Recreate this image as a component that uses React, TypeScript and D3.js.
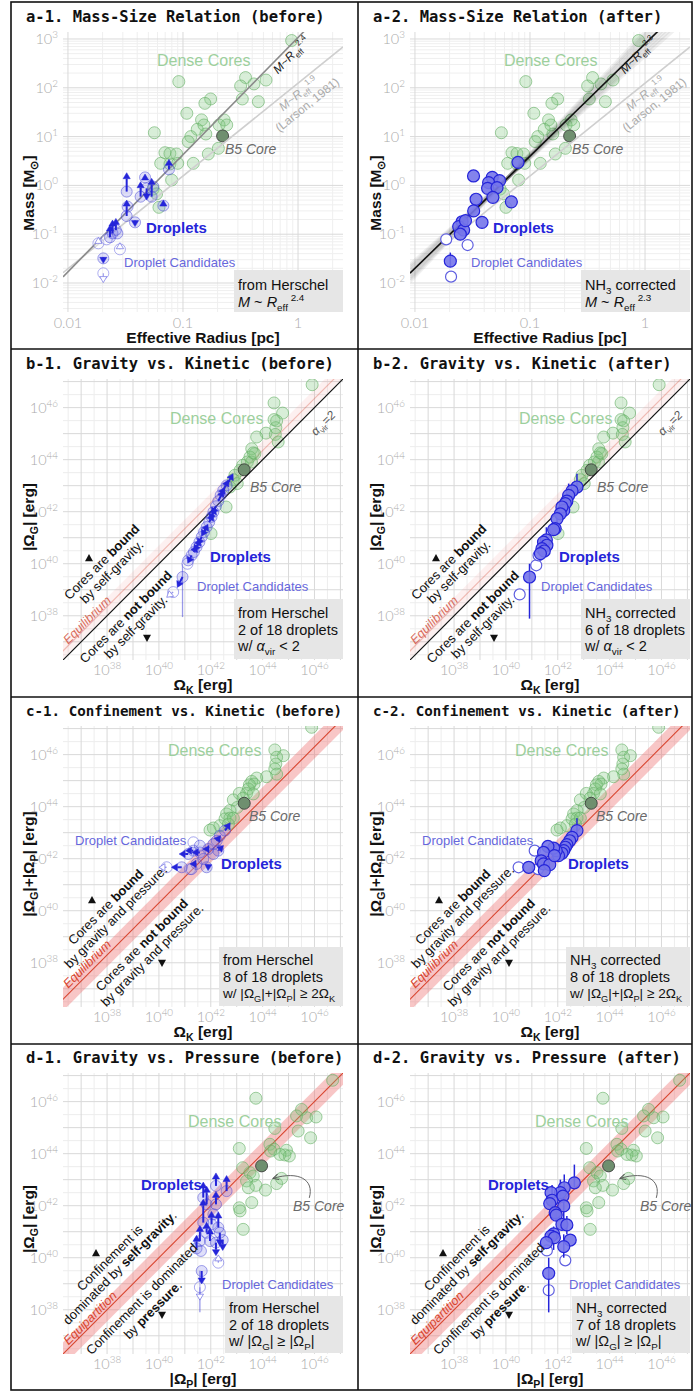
import React from 'react';
import * as d3 from 'd3';

const FONT = "'Liberation Sans', Arial, Helvetica, sans-serif";
const MONO = "'DejaVu Sans Mono', 'Liberation Mono', monospace";
const TICKF = "Lato, 'Open Sans', sans-serif";

// ================= DATA =================
// (a) mass–size relation: [effective radius (pc), mass (Msun)]
const coresA = [
  [0.88, 930], [0.092, 134], [0.35, 162], [0.317, 109], [0.414, 120], [0.527, 144],
  [0.174, 59], [0.155, 48], [0.328, 59], [0.452, 52], [0.108, 30], [0.145, 22],
  [0.133, 14.1], [0.152, 17.3], [0.228, 21.9], [0.206, 17.3], [0.24, 17.3], [0.0564, 12.0],
  [0.117, 10.0], [0.111, 7.9], [0.158, 11.3], [0.166, 4.4], [0.203, 5.75], [0.0697, 4.68],
  [0.077, 4.5], [0.088, 4.4], [0.064, 2.83], [0.077, 2.75], [0.09, 2.83], [0.123, 2.83],
  [0.0797, 1.29], [0.055, 0.84], [0.059, 0.67], [0.0618, 0.355],
];
const b5CoreA = [0.221, 10.3];
// before: [R, M, M at arrow tip (limit)]
const dropletsA1 = [
  [0.0755, 2.13, 3.42], [0.0324, 0.745, 1.82], [0.0468, 1.46, 1.71], [0.0428, 0.587, 1.19],
  [0.0483, 0.87, 0.5], [0.0534, 0.587, 1.4], [0.0553, 0.94, 0.94], [0.0675, 0.385, 0.5],
  [0.0324, 0.236, 0.5], [0.033, 0.367, 0.367], [0.0383, 0.175, 0.143], [0.0244, 0.104, 0.195],
  [0.0261, 0.122, 0.211], [0.0232, 0.0863, 0.155], [0.0269, 0.104, 0.104], [0.0203, 0.032, 0.0253],
];
const candidatesA1 = [
  [0.0184, 0.065, 0.086], [0.0283, 0.049, 0.067], [0.0203, 0.0158, 0.0102], [0.0217, 0.0785, 0.0785],
];
// after: [R, M, Mlo, Mhi]
const dropletsA2 = [
  [0.0787, 2.97], [0.0323, 1.56], [0.047, 1.46], [0.0544, 1.25], [0.0437, 1.14], [0.0428, 0.87],
  [0.0517, 0.9], [0.0476, 0.57], [0.034, 0.52], [0.0689, 0.46], [0.0324, 0.3], [0.0383, 0.175],
  [0.0257, 0.18], [0.024, 0.143], [0.0265, 0.122], [0.0248, 0.1], [0.0275, 0.19], [0.0203, 0.028, 0.0216, 0.042],
];
const candidatesA2 = [[0.0187, 0.0785], [0.0287, 0.06], [0.0206, 0.0135]];
// power-law fits: log10 M = logA + slope * log10 R
const fitBefore = { logA: 3.03, slope: 2.4 };
const fitAfter = { logA: 2.9, slope: 2.3 };
const larson = { logA: 2.093, slope: 1.9 };
const fanSlopes = [2.1, 2.15, 2.2, 2.25, 2.3, 2.35, 2.4, 2.45, 2.5];

// (b) log10 Omega_K vs log10 |Omega_G| (erg)
const coresB = [
  [45.91, 46.88], [44.44, 46.18], [44.77, 45.79], [44.44, 45.54], [44.54, 45.49], [44.51, 45.23],
  [44.13, 45.02], [44.49, 44.97], [43.77, 44.87], [44.6, 44.68], [43.58, 44.42], [43.7, 44.23],
  [43.51, 44.1], [43.41, 43.91], [43.57, 43.91], [43.23, 43.78], [43.13, 43.59], [42.93, 43.4],
  [42.87, 43.23], [43.02, 43.08], [42.74, 42.95], [42.59, 42.18], [42.01, 41.16], [43.64, 44.26],
];
const b5CoreB = [43.29, 43.61];
// before: [x, y, dx, dy] (arrow in dex)
const dropletsB1 = [
  [42.61, 43.01, 0.25, 0.45], [42.48, 42.82, 0.2, 0.4], [42.38, 42.63, 0.15, 0.3], [42.29, 42.41, 0.2, 0.4],
  [42.2, 42.21, -0.15, -0.3], [42.1, 41.99, -0.15, -0.3], [42.03, 41.8, 0.15, 0.35], [41.94, 41.6, 0.15, 0.3],
  [41.84, 41.41, -0.2, -0.35], [41.74, 41.22, 0.15, 0.3], [41.65, 41.03, -0.15, -0.3], [41.56, 40.83, -0.2, -0.35],
  [41.45, 40.64, 0.15, 0.3], [41.35, 40.45, 0.1, 0.25], [41.26, 40.32, -0.15, -0.3], [41.13, 40.13, 0, 0],
  [40.91, 39.49, -0.2, -0.4],
];
const candidatesB1 = [[40.55, 38.91, -0.25, -0.2], [41.1, 40.0, 0, 0]];
const errorsB1 = [[40.91, 37.95, 40.0]];
// after: [x, y, ylo, yhi]
const dropletsB2 = [
  [42.74, 42.95, 42.69, 43.46], [42.55, 42.8], [42.42, 42.63, 42.3, 43.08], [42.35, 42.41], [42.29, 42.31],
  [42.23, 42.05, 41.9, 42.6], [42.16, 42.18], [42.1, 41.92], [41.97, 41.73, 41.6, 42.1], [41.9, 41.35],
  [41.84, 41.31], [41.56, 40.92, 40.8, 41.4], [41.45, 40.83], [41.58, 40.71], [41.39, 40.58],
  [41.48, 40.49], [41.33, 40.39], [40.91, 39.49, 37.89, 40.0],
];
const candidatesB2 = [[41.17, 39.94], [41.26, 40.32], [40.53, 38.82]];

// (c) log10 Omega_K vs log10(|Omega_G|+|Omega_P|)
const coresC = [
  [45.89, 47.05], [44.47, 46.18], [44.8, 45.96], [44.54, 45.9], [44.51, 45.64], [44.47, 45.45],
  [44.54, 45.25], [44.15, 45.15], [43.77, 45.1], [43.58, 44.97], [43.67, 44.87], [43.49, 44.84],
  [43.45, 44.68], [43.38, 44.51], [43.64, 44.49], [43.1, 44.51], [43.25, 44.33], [42.87, 44.26],
  [43.02, 43.97], [42.74, 43.85], [42.61, 43.72], [42.74, 43.56], [42.55, 43.53], [42.87, 43.56],
  [42.35, 43.27], [42.1, 43.18], [41.97, 43.1], [42.68, 43.33],
];
const b5CoreC = [43.29, 44.13];
const dropletsC1 = [
  [42.55, 43.08, 0.2, 0.3], [42.35, 42.88, 0, 0], [42.23, 42.69, 0.15, 0.2], [42.1, 42.56, 0, 0],
  [41.9, 42.37, -0.2, 0], [41.58, 42.24, -0.3, 0], [41.33, 42.31, -0.3, 0], [41.13, 42.18, -0.35, 0],
  [41.71, 41.99, 0, 0], [41.45, 41.8, -0.25, 0], [41.26, 41.6, 0, 0], [41.84, 41.67, 0.2, 0.1],
  [42.1, 42.18, 0, 0], [42.29, 42.31, 0.2, 0.2], [40.88, 41.67, -0.4, 0], [41.58, 42.5, 0, 0],
];
const candidatesC1 = [[40.3, 41.67, -0.3, 0], [41.33, 42.63, 0, 0], [41.2, 41.6, 0, 0]];
const dropletsC2 = [
  [42.74, 43.08, 42.95, 43.55], [42.55, 42.82], [42.46, 42.69], [42.35, 42.54], [42.29, 42.44],
  [42.23, 42.31], [42.16, 42.21], [42.03, 42.12], [41.94, 42.31], [41.84, 42.41], [41.62, 42.47],
  [41.45, 42.24], [41.36, 41.92], [41.45, 41.8], [41.69, 41.77], [41.48, 41.54], [40.88, 41.67],
  [41.87, 42.12],
];
const candidatesC2 = [[41.11, 42.31], [40.49, 41.67], [41.24, 41.6]];

// (d) log10 |Omega_P| vs log10 |Omega_G|
const coresD = [
  [46.7, 46.82], [43.74, 46.13], [45.5, 45.7], [45.31, 45.45], [45.7, 45.38], [46.06, 45.41],
  [44.47, 44.97], [45.37, 44.87], [45.85, 44.61], [43.1, 44.2], [44.28, 44.36], [44.44, 44.17],
  [44.92, 44.13], [44.86, 43.95], [45.03, 43.91], [44.67, 43.97], [43.51, 43.27], [43.64, 43.14],
  [43.38, 42.95], [43.74, 42.78], [43.45, 42.69], [44.11, 42.6], [44.54, 42.85], [44.73, 43.05],
  [43.58, 42.12], [43.1, 41.92], [43.13, 41.8], [43.25, 41.09], [44.31, 44.1], [43.23, 43.46],
];
const b5CoreD = [43.96, 43.53];
const dropletsD1 = [
  [42.61, 42.56, 0, 0.6], [42.2, 42.76, 0, 0.5], [41.71, 42.31, 0, 0.6], [41.84, 42.05, 0, 0.7],
  [42.2, 42.05, 0, 0.5], [42.1, 41.67, 0, 0], [41.71, 41.35, 0, 0.9], [42.03, 41.28, 0, 0.5],
  [42.29, 41.16, 0, 0.6], [42.35, 40.96, 0, -0.5], [41.84, 40.96, 0, 0.4], [41.58, 40.64, 0, 0.6],
  [41.97, 40.64, 0, 0.5], [42.46, 40.68, 0, -0.4], [42.2, 40.58, 0, -0.5], [41.45, 40.36, 0, 0.5],
  [41.62, 40.26, 0, 0], [41.65, 39.49, 0, -0.5],
];
const candidatesD1 = [[42.29, 39.81, 0, 0.3], [41.58, 38.87, 0, -0.5]];
const errorsD1 = [[41.58, 37.9, 39.5]];
const dropletsD2 = [
  [42.64, 42.88, 42.7, 43.58], [42.25, 42.69, 42.5, 43.2], [42.1, 42.5, 42.3, 43.0], [41.74, 42.5],
  [41.78, 42.21, 42.0, 42.8], [41.69, 42.08], [42.2, 42.37], [42.23, 41.99, 41.5, 42.3], [41.9, 41.73],
  [41.94, 41.64, 41.4, 41.95], [42.16, 41.28], [42.35, 41.26, 40.9, 41.6], [41.84, 40.92, 40.3, 41.2],
  [41.74, 40.83], [41.87, 40.77], [42.48, 40.68], [41.56, 40.58], [42.23, 40.43, 40.0, 40.9],
  [41.65, 39.4, 37.9, 40.0],
];
const candidatesD2 = [[41.58, 40.28], [42.29, 39.9], [41.65, 38.75]];

const massTicksX = [0.01, 0.1, 1];
const massTickLabelsX = ['0.01', '0.1', '1'];
const massTickExpY = [-2, -1, 0, 1, 2, 3];
const energyTicks = [38, 40, 42, 44, 46];

// ================= LAYOUT / STYLE =================
const PX0 = 63, PX1 = 343, PY0 = 32, PY1 = 313;
const ROW_Y = [0, 347, 694, 1041];
const ex = d3.scaleLinear().domain([36.3, 47.1]).range([PX0, PX1]);
const ey = d3.scaleLinear().domain([36.3, 47.1]).range([PY1, PY0]);
const mx = d3.scaleLog().domain([10 ** -2.043, 10 ** 0.391]).range([PX0, PX1]);
const my = d3.scaleLog().domain([10 ** -2.594, 10 ** 3.143]).range([312, PY0]);

const BLUE = '#2525d9';
const BLUE_FILL = '#7575ea';
const LIGHT_FILL = 'rgba(95,95,228,0.2)';
const LIGHT_STROKE = 'rgba(70,70,215,0.5)';
const CAND = '#5f5fe0';
const CORE_FILL = 'rgba(125,198,125,0.3)';
const CORE_STROKE = 'rgba(100,175,100,0.6)';
const GREEN_TXT = '#9dd09d';
const TICK_COL = '#ababab';
const R_CORE = 6;

type Part = { t: string; sub?: boolean; sup?: boolean; b?: boolean; i?: boolean };
const P = (t: string, o: Partial<Part> = {}): Part => ({ t, ...o });

function Rich({ parts, size }: { parts: Part[]; size: number }) {
  let shift = 0;
  return (
    <>
      {parts.map((p, k) => {
        const target = p.sub ? size * 0.28 : p.sup ? -size * 0.42 : 0;
        const dy = target - shift;
        shift = target;
        return (
          <tspan key={k} dy={dy} fontSize={p.sub || p.sup ? size * 0.68 : size}
            fontWeight={p.b ? 700 : undefined} fontStyle={p.i ? 'italic' : undefined}>{p.t}</tspan>
        );
      })}
    </>
  );
}

function RotLines({ x, y, angle, lines, size, fill = '#111', lh = 14, italic = false }:
  { x: number; y: number; angle: number; lines: Part[][]; size: number; fill?: string; lh?: number; italic?: boolean }) {
  return (
    <g transform={`translate(${x},${y}) rotate(${angle})`}>
      {lines.map((l, i) => (
        <text key={i} x={0} y={i * lh} textAnchor="middle" fontSize={size} fill={fill} fontFamily={FONT}
          fontStyle={italic ? 'italic' : undefined}><Rich parts={l} size={size} /></text>
      ))}
    </g>
  );
}

function Arrow({ x1, y1, x2, y2, color, open = false, w = 2 }:
  { x1: number; y1: number; x2: number; y2: number; color: string; open?: boolean; w?: number }) {
  const ang = Math.atan2(y2 - y1, x2 - x1);
  const L = 6, hw = 3.6;
  const bx = x2 - L * Math.cos(ang), by = y2 - L * Math.sin(ang);
  const px = -Math.sin(ang) * hw, py = Math.cos(ang) * hw;
  const d = `M${x2},${y2}L${bx + px},${by + py}L${bx - px},${by - py}Z`;
  return (
    <g>
      <line x1={x1} y1={y1} x2={bx} y2={by} stroke={color} strokeWidth={open ? 1.2 : w} />
      <path d={d} fill={open ? 'white' : color} stroke={color} strokeWidth={open ? 1 : 0.5} />
    </g>
  );
}

function Tri({ x, y, up }: { x: number; y: number; up: boolean }) {
  const s = 4;
  const d = up
    ? `M${x},${y - s}L${x + s},${y + s * 0.8}L${x - s},${y + s * 0.8}Z`
    : `M${x},${y + s}L${x + s},${y - s * 0.8}L${x - s},${y - s * 0.8}Z`;
  return <path d={d} fill="#111" />;
}

function Title({ text, size = 15.5 }: { text: string; size?: number }) {
  return <text x={26} y={22} fontFamily={MONO} fontWeight={700} fontSize={size} fill="#111">{text}</text>;
}

function Label({ x, y, text, size, fill, bold = false, italic = false }:
  { x: number; y: number; text: string; size: number; fill: string; bold?: boolean; italic?: boolean }) {
  return <text x={x} y={y} fontFamily={FONT} fontSize={size} fill={fill} fontWeight={bold ? 700 : 400}
    fontStyle={italic ? 'italic' : undefined}>{text}</text>;
}

function InfoBox({ x, y, w, h, tx, base, lines, size = 14.5 }:
  { x: number; y: number; w: number; h: number; tx: number; base: number; lines: { parts: Part[]; size?: number }[]; size?: number }) {
  return (
    <g>
      <rect x={x} y={y} width={w} height={h} fill="#e6e6e6" />
      {lines.map((l, i) => (
        <text key={i} x={tx} y={base + i * 16.7} fontFamily={FONT} fontSize={l.size || size} fill="#111">
          <Rich parts={l.parts} size={l.size || size} />
        </text>
      ))}
    </g>
  );
}

function AxisTitles({ xLabel, yLabel, yCy }: { xLabel: Part[]; yLabel: Part[]; yCy: number }) {
  return (
    <g fontFamily={FONT} fontWeight={700} fill="#111">
      <text x={(PX0 + PX1) / 2} y={343} textAnchor="middle" fontSize={15.5}><Rich parts={xLabel} size={15.5} /></text>
      <text transform={`translate(34,${yCy}) rotate(-90)`} textAnchor="middle" fontSize={15.5}><Rich parts={yLabel} size={15.5} /></text>
    </g>
  );
}

// ---------- grids ----------
function EnergyGrid() {
  const halves = d3.range(36.5, 47.1, 1);
  const majors = d3.range(37, 47.1, 1);
  return (
    <g>
      <rect x={PX0} y={PY0} width={PX1 - PX0} height={PY1 - PY0} fill="#fff" />
      {halves.map(v => (
        <g key={'h' + v}>
          <line x1={ex(v)} x2={ex(v)} y1={PY0} y2={PY1} stroke="#ededed" />
          <line y1={ey(v)} y2={ey(v)} x1={PX0} x2={PX1} stroke="#ededed" />
        </g>
      ))}
      {majors.map(v => (
        <g key={'m' + v}>
          <line x1={ex(v)} x2={ex(v)} y1={PY0} y2={PY1} stroke="#d9d9d9" />
          <line y1={ey(v)} y2={ey(v)} x1={PX0} x2={PX1} stroke="#d9d9d9" />
        </g>
      ))}
      {energyTicks.map(v => (
        <g key={'t' + v} fontFamily={TICKF} fontWeight={300} fill={TICK_COL}>
          <text x={ex(v)} y={328} textAnchor="middle" fontSize={14.5}><Rich parts={[P('10'), P(String(v), { sup: true })]} size={14.5} /></text>
          <text x={58} y={ey(v) + 5} textAnchor="end" fontSize={14.5}><Rich parts={[P('10'), P(String(v), { sup: true })]} size={14.5} /></text>
        </g>
      ))}
    </g>
  );
}

function MassGrid() {
  const [x0, x1] = mx.domain();
  const [y0, y1] = my.domain();
  const xs = d3.range(-3, 1).flatMap(e => d3.range(1, 10).map(k => ({ v: k * 10 ** e, major: k === 1 })))
    .filter(d => d.v >= x0 && d.v <= x1);
  const ys = d3.range(-3, 4).flatMap(e => d3.range(1, 10).map(k => ({ v: k * 10 ** e, major: k === 1 })))
    .filter(d => d.v >= y0 && d.v <= y1);
  return (
    <g>
      <rect x={PX0} y={PY0} width={PX1 - PX0} height={312 - PY0} fill="#fff" />
      {xs.filter(d => !d.major).map((d, i) => <line key={'xm' + i} x1={mx(d.v)} x2={mx(d.v)} y1={PY0} y2={312} stroke="#efefef" />)}
      {ys.filter(d => !d.major).map((d, i) => <line key={'ym' + i} y1={my(d.v)} y2={my(d.v)} x1={PX0} x2={PX1} stroke="#efefef" />)}
      {xs.filter(d => d.major).map((d, i) => <line key={'xM' + i} x1={mx(d.v)} x2={mx(d.v)} y1={PY0} y2={312} stroke="#d9d9d9" />)}
      {ys.filter(d => d.major).map((d, i) => <line key={'yM' + i} y1={my(d.v)} y2={my(d.v)} x1={PX0} x2={PX1} stroke="#d9d9d9" />)}
      {massTicksX.map((v, i) => (
        <text key={'tx' + i} x={mx(v)} y={328} textAnchor="middle" fontFamily={TICKF} fontWeight={300} fontSize={14.5} fill={TICK_COL}>{massTickLabelsX[i]}</text>
      ))}
      {massTickExpY.map(e => (
        <text key={'ty' + e} x={58} y={my(10 ** e) + 5} textAnchor="end" fontFamily={TICKF} fontWeight={300} fontSize={14.5} fill={TICK_COL}>
          <Rich parts={[P('10'), P(String(e), { sup: true })]} size={14.5} />
        </text>
      ))}
    </g>
  );
}

// ---------- row a ----------
function MassPanel({ col, after }: { col: number; after: boolean }) {
  const [r0, r1] = mx.domain();
  const lineFor = (f: { logA: number; slope: number }) =>
    d3.line()([r0, r1].map(r => [mx(r), my(10 ** (f.logA + f.slope * Math.log10(r)))]) as any) || '';
  const fit = after ? fitAfter : fitBefore;
  const pivotR = -1.2, pivotM = fitAfter.logA + fitAfter.slope * pivotR;
  return (
    <g transform={`translate(${col * 347},0)`}>
      <Title text={after ? 'a-2. Mass-Size Relation (after)' : 'a-1. Mass-Size Relation (before)'} />
      <MassGrid />
      <AxisTitles xLabel={[P('Effective Radius [pc]')]} yLabel={[P('Mass [M'), P('⊙', { sub: true }), P(']')]} yCy={193} />
      <g clipPath="url(#plotClip)">
        {coresA.map((d, i) => <circle key={'c' + i} cx={mx(d[0])} cy={my(d[1])} r={R_CORE} fill={CORE_FILL} stroke={CORE_STROKE} />)}
        <circle cx={mx(b5CoreA[0])} cy={my(b5CoreA[1])} r={R_CORE} fill="#6f8f6f" stroke="#333" strokeOpacity={0.8} />
        {after && fanSlopes.map((s, i) => (
          <path key={'fan' + i} d={d3.line()([r0, r1].map(r => [mx(r), my(10 ** (pivotM + s * (Math.log10(r) - pivotR)))]) as any) || ''}
            stroke="#000" strokeOpacity={0.06} strokeWidth={4} fill="none" />
        ))}
        <path d={lineFor(larson)} stroke="#cfcfcf" strokeWidth={1.6} fill="none" />
        <path d={lineFor(fit)} stroke={after ? '#111' : '#8a8a8a'} strokeWidth={1.6} fill="none" />
        {!after && (
          <g>
            {candidatesA1.map((d, i) => (
              <g key={'ca' + i}>
                <circle cx={mx(d[0])} cy={my(d[1])} r={5.5} fill="rgba(255,255,255,0.3)" stroke="rgba(95,95,225,0.5)" />
                {d[2] !== d[1] && <Arrow x1={mx(d[0])} y1={my(d[1])} x2={mx(d[0])} y2={my(d[2])} color="rgba(95,95,225,0.6)" open />}
              </g>
            ))}
            {dropletsA1.map((d, i) => (
              <circle key={'da' + i} cx={mx(d[0])} cy={my(d[1])} r={5.5} fill={LIGHT_FILL} stroke={LIGHT_STROKE} />
            ))}
            {dropletsA1.filter(d => d[2] !== d[1]).map((d, i) => (
              <Arrow key={'ar' + i} x1={mx(d[0])} y1={my(d[1])} x2={mx(d[0])} y2={my(d[2])} color={BLUE} />
            ))}
          </g>
        )}
        {after && (
          <g>
            {candidatesA2.map((d, i) => (
              <circle key={'cb' + i} cx={mx(d[0])} cy={my(d[1])} r={5.5} fill="white" stroke={CAND} strokeWidth={1.2} />
            ))}
            {dropletsA2.filter(d => d.length > 2).map((d, i) => (
              <line key={'eb' + i} x1={mx(d[0])} x2={mx(d[0])} y1={my(d[2])} y2={my(d[3])} stroke={BLUE} strokeWidth={1.5} />
            ))}
            {dropletsA2.map((d, i) => (
              <circle key={'db' + i} cx={mx(d[0])} cy={my(d[1])} r={6} fill={BLUE_FILL} fillOpacity={0.9} stroke={BLUE} strokeWidth={1.2} />
            ))}
          </g>
        )}
      </g>
      <Label x={157} y={66} text="Dense Cores" size={16} fill={GREEN_TXT} />
      <Label x={225} y={154} text="B5 Core" size={14} fill="#6a6a6a" italic />
      <Label x={146} y={233} text="Droplets" size={15} fill={BLUE} bold />
      <Label x={124} y={267} text="Droplet Candidates" size={13} fill="#6767dc" />
      <RotLines x={294} y={58} angle={-45.5} size={12} fill="#222" lines={[[
        P('M', { i: true }), P('~'), P('R', { i: true }), P('eff', { sub: true }), P(after ? '2.3' : '2.4', { sup: true })]]} />
      <RotLines x={301} y={97} angle={-38.9} size={12} fill="#ababab" lh={14} lines={[
        [P('M', { i: true }), P('~'), P('R', { i: true }), P('eff', { sub: true }), P('1.9', { sup: true })],
        [P('(Larson, 1981)')]]} />
      <InfoBox x={234} y={270} w={109} h={42} tx={238} base={290} lines={[
        { parts: after ? [P('NH'), P('3', { sub: true }), P(' corrected')] : [P('from Herschel')] },
        { parts: [P('M', { i: true }), P(' ~ '), P('R', { i: true }), P('eff', { sub: true }), P(after ? ' 2.3' : ' 2.4', { sup: true })] },
      ]} />
    </g>
  );
}

// ---------- energy panels ----------
type Band = { lo: number; hi: number; mid: number; fill: string; line: string };
function EnergyPanel({ col, row, title, titleSize, xLabel, yLabel, yCy, cores, b5, band, black,
  before, after, children }: any) {
  const span = [35, 48];
  const b: Band | undefined = band;
  const area = b ? d3.area<number>().x(v => ex(v)).y0(v => ey(v + b.lo)).y1(v => ey(v + b.hi))(span) || '' : '';
  const mid = b ? d3.line<number>().x(v => ex(v)).y(v => ey(v + b.mid))(span) || '' : '';
  const diag = d3.line<number>().x(v => ex(v)).y(v => ey(v))(span) || '';
  return (
    <g transform={`translate(${col * 347},${ROW_Y[row]})`}>
      <Title text={title} size={titleSize} />
      <EnergyGrid />
      <AxisTitles xLabel={xLabel} yLabel={yLabel} yCy={yCy} />
      <g clipPath="url(#plotClip)">
        {b && <path d={area} fill={b.fill} />}
        {b && <path d={mid} stroke={b.line} strokeWidth={1.1} fill="none" />}
        {cores.map((d: number[], i: number) => <circle key={'c' + i} cx={ex(d[0])} cy={ey(d[1])} r={R_CORE} fill={CORE_FILL} stroke={CORE_STROKE} />)}
        <circle cx={ex(b5[0])} cy={ey(b5[1])} r={R_CORE} fill="#6f8f6f" stroke="#333" strokeOpacity={0.8} />
        {black && <path d={diag} stroke="#111" strokeWidth={1.2} fill="none" />}
        {before && (
          <g>
            {(before.errs || []).map((e: number[], i: number) => (
              <line key={'e' + i} x1={ex(e[0])} x2={ex(e[0])} y1={ey(e[1])} y2={ey(e[2])} stroke="rgba(70,70,215,0.55)" strokeWidth={1.3} />
            ))}
            {before.cands.map((d: number[], i: number) => (
              <g key={'cc' + i}>
                <circle cx={ex(d[0])} cy={ey(d[1])} r={5.5} fill="rgba(255,255,255,0.3)" stroke="rgba(95,95,225,0.55)" />
                {(d[2] || d[3]) ? <Arrow x1={ex(d[0])} y1={ey(d[1])} x2={ex(d[0] + d[2])} y2={ey(d[1] + d[3])} color="rgba(95,95,225,0.65)" open /> : null}
              </g>
            ))}
            {before.drops.map((d: number[], i: number) => (
              <circle key={'d' + i} cx={ex(d[0])} cy={ey(d[1])} r={5.5} fill={LIGHT_FILL} stroke={LIGHT_STROKE} />
            ))}
            {before.drops.filter((d: number[]) => d[2] || d[3]).map((d: number[], i: number) => (
              <Arrow key={'a' + i} x1={ex(d[0])} y1={ey(d[1])} x2={ex(d[0] + d[2])} y2={ey(d[1] + d[3])} color={BLUE} />
            ))}
          </g>
        )}
        {after && (
          <g>
            {after.cands.map((d: number[], i: number) => (
              <circle key={'cc' + i} cx={ex(d[0])} cy={ey(d[1])} r={5.5} fill="white" stroke={CAND} strokeWidth={1.2} />
            ))}
            {after.drops.filter((d: number[]) => d.length > 2).map((d: number[], i: number) => (
              <line key={'e' + i} x1={ex(d[0])} x2={ex(d[0])} y1={ey(d[2])} y2={ey(d[3])} stroke={BLUE} strokeWidth={1.5} />
            ))}
            {after.drops.map((d: number[], i: number) => (
              <circle key={'d' + i} cx={ex(d[0])} cy={ey(d[1])} r={6} fill={BLUE_FILL} fillOpacity={0.9} stroke={BLUE} strokeWidth={1.2} />
            ))}
          </g>
        )}
      </g>
      {children}
    </g>
  );
}

const OMEGA_K = [P('Ω'), P('K', { sub: true }), P(' [erg]')];
const OMEGA_G = [P('|Ω'), P('G', { sub: true }), P('| [erg]')];
const OMEGA_GP = [P('|Ω'), P('G', { sub: true }), P('|+|Ω'), P('P', { sub: true }), P('| [erg]')];
const OMEGA_P = [P('|Ω'), P('P', { sub: true }), P('| [erg]')];

function headLine(after: boolean): Part[] {
  return after ? [P('NH'), P('3', { sub: true }), P(' corrected')] : [P('from Herschel')];
}

function RowB({ col, after }: { col: number; after: boolean }) {
  return (
    <EnergyPanel col={col} row={1} title={after ? 'b-2. Gravity vs. Kinetic (after)' : 'b-1. Gravity vs. Kinetic (before)'}
      xLabel={OMEGA_K} yLabel={OMEGA_G} yCy={170} cores={coresB} b5={b5CoreB} black
      band={{ lo: 0.05, hi: 0.7, mid: 0.35, fill: 'rgba(240,140,140,0.13)', line: 'rgba(215,80,60,0.35)' }}
      before={after ? null : { drops: dropletsB1, cands: candidatesB1, errs: errorsB1 }}
      after={after ? { drops: dropletsB2, cands: candidatesB2 } : null}>
      <Label x={after ? 172 : 170} y={77} text="Dense Cores" size={16} fill={GREEN_TXT} />
      <Label x={250} y={145} text="B5 Core" size={14} fill="#6a6a6a" italic />
      <Label x={after ? 212 : 210} y={215} text="Droplets" size={15} fill={BLUE} bold />
      <Label x={after ? 194 : 197} y={244} text="Droplet Candidates" size={13} fill="#6767dc" />
      <RotLines x={326} y={79} angle={-45} size={12} fill="#555" lines={[[P('α', { i: true }), P('vir', { sub: true }), P('=2', { i: true })]]} />
      <RotLines x={105} y={218} angle={-45} size={13} lines={[[P('Cores are '), P('bound', { b: true })], [P('by self-gravity.')]]} />
      <RotLines x={129} y={273} angle={-45} size={13} lines={[[P('Cores are '), P('not bound', { b: true })], [P('by self-gravity.')]]} />
      <RotLines x={90} y={276} angle={-45} size={12.5} italic fill="rgba(205,60,40,0.75)" lines={[[P('Equilibrium')]]} />
      <Tri x={89} y={211} up />
      <Tri x={147} y={291} up={false} />
      <InfoBox x={234} y={252} w={109} h={60} tx={238} base={271} lines={[
        { parts: headLine(after) },
        { parts: [P(after ? '6 of 18 droplets' : '2 of 18 droplets')] },
        { parts: [P('w/ '), P('α', { i: true }), P('vir', { sub: true }), P(' < 2')] },
      ]} />
    </EnergyPanel>
  );
}

function RowC({ col, after }: { col: number; after: boolean }) {
  return (
    <EnergyPanel col={col} row={2} titleSize={14.2}
      title={after ? 'c-2. Confinement vs. Kinetic (after)' : 'c-1. Confinement vs. Kinetic (before)'}
      xLabel={OMEGA_K} yLabel={OMEGA_GP} yCy={170} cores={coresC} b5={b5CoreC}
      band={{ lo: -0.15, hi: 0.75, mid: 0.3, fill: 'rgba(238,120,120,0.42)', line: '#d8452f' }}
      before={after ? null : { drops: dropletsC1, cands: candidatesC1 }}
      after={after ? { drops: dropletsC2, cands: candidatesC2 } : null}>
      <Label x={168} y={62} text="Dense Cores" size={16} fill={GREEN_TXT} />
      <Label x={249} y={127} text="B5 Core" size={14} fill="#6a6a6a" italic />
      <Label x={75} y={151} text="Droplet Candidates" size={13} fill="#6767dc" />
      <Label x={221} y={175} text="Droplets" size={15} fill={BLUE} bold />
      <RotLines x={109} y={216} angle={-45} size={13} lines={[[P('Cores are '), P('bound', { b: true })], [P('by gravity and pressure.')]]} />
      <RotLines x={145} y={254} angle={-45} size={13} lh={14.5} lines={[[P('Cores are '), P('not bound', { b: true })], [P('by gravity and pressure.')]]} />
      <RotLines x={90} y={273} angle={-45} size={12.5} italic fill="#d8452f" lines={[[P('Equilibrium')]]} />
      <Tri x={92} y={206} up />
      <Tri x={162} y={269} up={false} />
      <InfoBox x={219} y={253} w={124} h={59} tx={223} base={271} lines={[
        { parts: headLine(after) },
        { parts: [P('8 of 18 droplets')] },
        { parts: [P('w/ |Ω'), P('G', { sub: true }), P('|+|Ω'), P('P', { sub: true }), P('| ≥ 2Ω'), P('K', { sub: true })], size: 13.6 },
      ]} />
    </EnergyPanel>
  );
}

function RowD({ col, after }: { col: number; after: boolean }) {
  const arrowPath = `M${ex(45.8)},${ey(42.3)} C${ex(46.0)},${ey(43.0)} ${ex(45.4)},${ey(43.35)} ${ex(44.4)},${ey(43.05)}`;
  return (
    <EnergyPanel col={col} row={3} title={after ? 'd-2. Gravity vs. Pressure (after)' : 'd-1. Gravity vs. Pressure (before)'}
      xLabel={OMEGA_P} yLabel={OMEGA_G} yCy={178} cores={coresD} b5={b5CoreD}
      band={{ lo: -0.45, hi: 0.45, mid: 0, fill: 'rgba(238,120,120,0.42)', line: '#d8452f' }}
      before={after ? null : { drops: dropletsD1, cands: candidatesD1, errs: errorsD1 }}
      after={after ? { drops: dropletsD2, cands: candidatesD2 } : null}>
      <Label x={188} y={86} text="Dense Cores" size={16} fill={GREEN_TXT} />
      <Label x={293} y={170} text="B5 Core" size={14} fill="#6a6a6a" italic />
      <path d={arrowPath} fill="none" stroke="#666" strokeWidth={1} markerEnd="url(#grayHead)" />
      <Label x={141} y={149} text="Droplets" size={15} fill={BLUE} bold />
      <Label x={222} y={248} text="Droplet Candidates" size={13} fill="#6767dc" />
      <RotLines x={113} y={220} angle={-45} size={13} lines={[[P('Confinement is')], [P('dominated by '), P('self-gravity', { b: true }), P('.')]]} />
      <RotLines x={145} y={261} angle={-45} size={13} lh={15.5} lines={[[P('Confinement is dominated')], [P('by '), P('pressure', { b: true }), P('.')]]} />
      <RotLines x={93} y={280} angle={-45} size={12.5} italic fill="#d8452f" lines={[[P('Equipartition')]]} />
      <Tri x={96} y={212} up />
      <Tri x={162} y={274} up={false} />
      <InfoBox x={225} y={255} w={118} h={57} tx={229} base={272} lines={[
        { parts: headLine(after) },
        { parts: [P(after ? '7 of 18 droplets' : '2 of 18 droplets')] },
        { parts: [P('w/ |Ω'), P('G', { sub: true }), P('| ≥ |Ω'), P('P', { sub: true }), P('|')] },
      ]} />
    </EnergyPanel>
  );
}

export default function App() {
  return (
    <svg width={694} height={1391} viewBox="0 0 694 1391"
      style={{ position: 'absolute', left: 0, top: 0, background: '#fff' }}>
      <defs>
        <clipPath id="plotClip"><rect x={PX0} y={PY0} width={PX1 - PX0} height={PY1 - PY0} /></clipPath>
        <marker id="grayHead" viewBox="0 0 10 10" refX={9} refY={5} markerWidth={7} markerHeight={7} orient="auto">
          <path d="M1,1 L9,5 L1,9" fill="none" stroke="#555" strokeWidth={1.4} />
        </marker>
      </defs>
      <rect x={0} y={0} width={694} height={1391} fill="#fff" />
      <MassPanel col={0} after={false} />
      <MassPanel col={1} after />
      <RowB col={0} after={false} />
      <RowB col={1} after />
      <RowC col={0} after={false} />
      <RowC col={1} after />
      <RowD col={0} after={false} />
      <RowD col={1} after />
      <g stroke="#111" strokeWidth={1.6} fill="none">
        <rect x={11} y={2} width={681} height={1388} />
        <line x1={358} x2={358} y1={2} y2={1390} />
        <line x1={11} x2={692} y1={349} y2={349} />
        <line x1={11} x2={692} y1={697} y2={697} />
        <line x1={11} x2={692} y1={1044} y2={1044} />
      </g>
    </svg>
  );
}
